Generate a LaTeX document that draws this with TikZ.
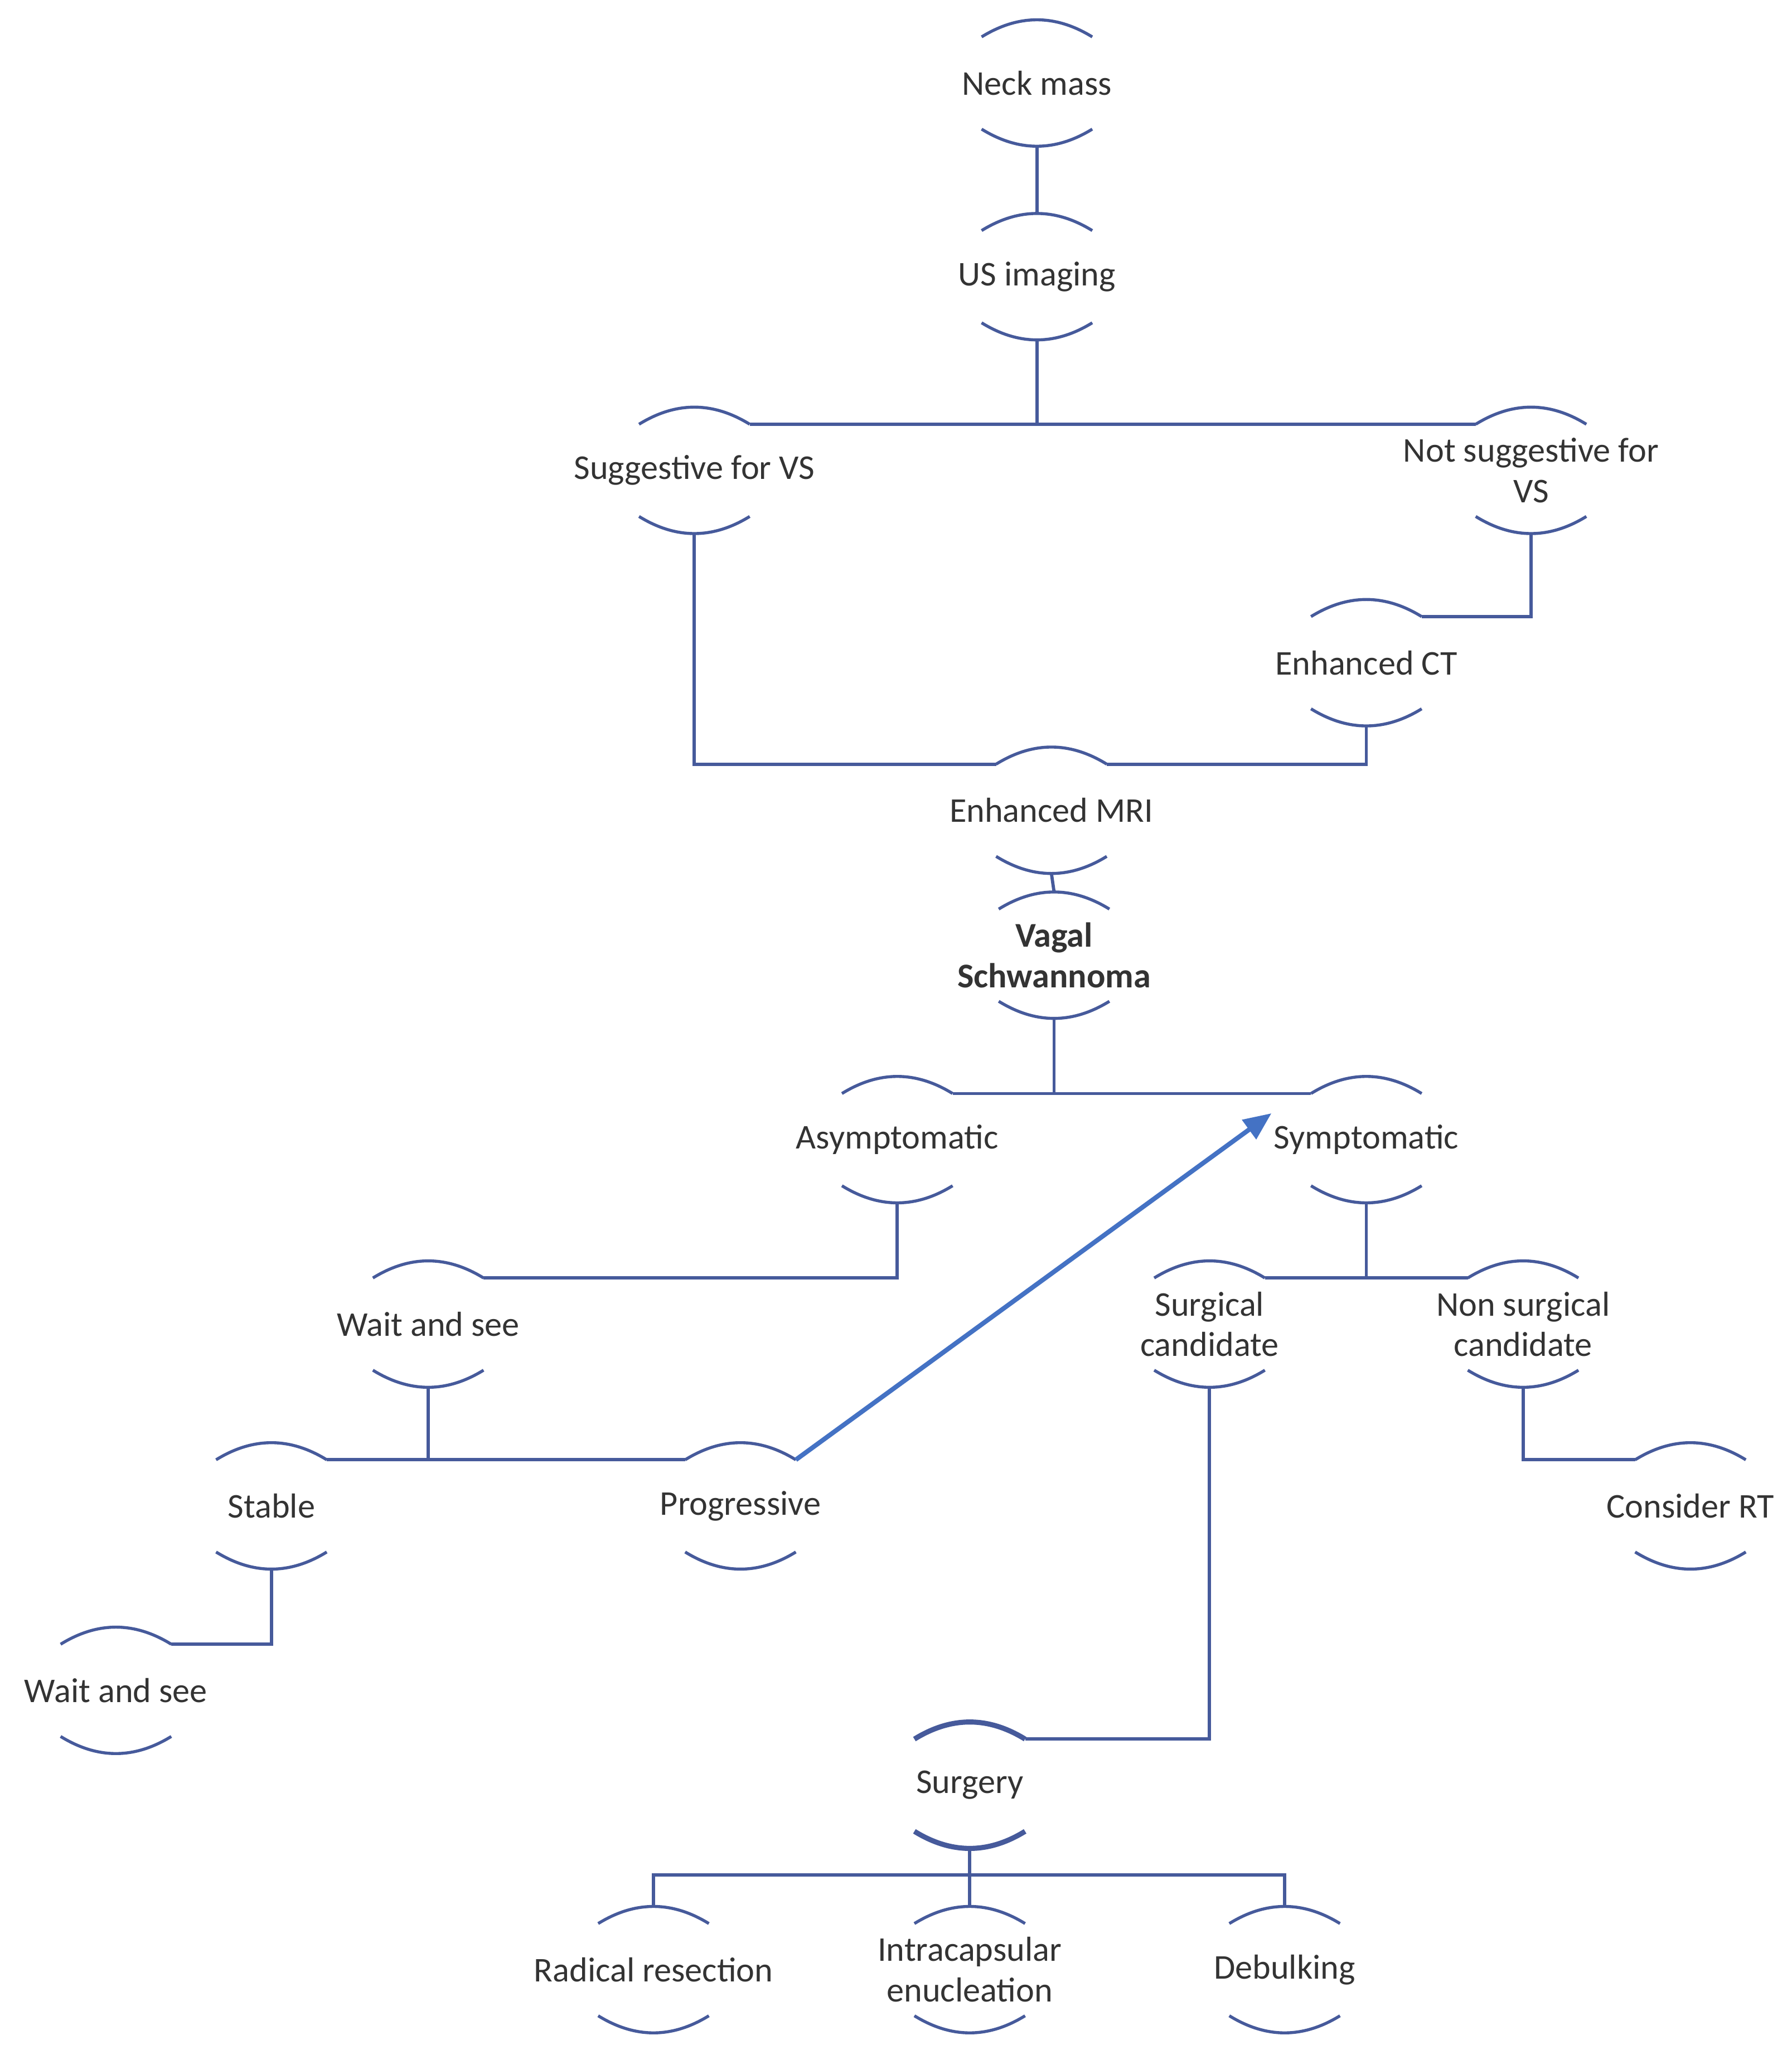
\documentclass[tikz,border=0pt]{standalone}
\usepackage{fontspec}
\setmainfont{Carlito}
\usetikzlibrary{calc,arrows.meta}
\definecolor{ln}{RGB}{70,90,155}
\definecolor{ar}{RGB}{68,114,196}
\tikzset{
  lbl/.style={align=center,font=\fontsize{15}{17.5}\selectfont,text=black!80,inner sep=0pt},
  arcl/.style={draw=ln,line width=1.3pt},
  con/.style={draw=ln,line width=1.4pt},
}
% \arcnode[style]{name}{x}{y}{text}
\newcommand{\arcnode}[5][]{%
  \node[lbl] (#2) at (#3,#4) {#5};
  \coordinate (#2-tl) at ({#3-42},{#4-35});
  \coordinate (#2-tr) at ({#3+42},{#4-35});
  \coordinate (#2-t) at (#3,{#4-48});
  \coordinate (#2-bl) at ({#3-42},{#4+35});
  \coordinate (#2-br) at ({#3+42},{#4+35});
  \coordinate (#2-b) at (#3,{#4+48});
  \draw[arcl,#1] (#2-tl) .. controls ({#3-14},{#4-52.3}) and ({#3+14},{#4-52.3}) .. (#2-tr);
  \draw[arcl,#1] (#2-bl) .. controls ({#3-14},{#4+52.3}) and ({#3+14},{#4+52.3}) .. (#2-br);
}
\begin{document}
\begin{tikzpicture}[x=0.02cm,y=-0.02cm]
\useasboundingbox (0,0) rectangle (1360,1556);
\arcnode{neck}{787}{63}{Neck mass}
\arcnode{us}{787}{210}{US imaging}
\arcnode{sug}{527}{357}{Suggestive for VS}
\arcnode{nsug}{1162}{357}{Not suggestive for\\VS}
\arcnode{ct}{1037}{503}{Enhanced CT}
\arcnode{mri}{798}{615}{Enhanced MRI}
\arcnode{vs}{800}{725}{\textbf{Vagal}\\\textbf{Schwannoma}}
\arcnode{asym}{681}{865}{Asymptomatic}
\arcnode{sym}{1037}{865}{Symptomatic}
\arcnode{wait}{325}{1005}{Wait and see}
\arcnode{surg}{918}{1005}{Surgical\\candidate}
\arcnode{nsurg}{1156}{1005}{Non surgical\\candidate}
\arcnode{stab}{206}{1143}{Stable}
\arcnode{prog}{562}{1143}{Progressive}
\arcnode{rt}{1283}{1143}{Consider RT}
\arcnode{waitb}{88}{1283}{Wait and see}
\arcnode[line width=2.2pt]{surgery}{736}{1355}{Surgery}
\arcnode{rad}{496}{1495}{Radical resection}
\arcnode{intra}{736}{1495}{Intracapsular\\enucleation}
\arcnode{deb}{975}{1495}{Debulking}

\draw[con] (neck-b) -- (us-t);
\draw[con] (us-b) -- (us-b |- sug-tr);
\draw[con] (sug-tr) -- (nsug-tl);
\draw[con] (sug-b) |- (mri-tl);
\draw[con] (mri-tr) -| (ct-b);
\draw[con] (nsug-b) |- (ct-tr);
\draw[con] (mri-b) -- (vs-t);
\draw[con] (vs-b) -- (vs-b |- asym-tr);
\draw[con] (asym-tr) -- (sym-tl);
\draw[con] (asym-b) |- (wait-tr);
\draw[con] (wait-b) -- (wait-b |- stab-tr);
\draw[con] (stab-tr) -- (prog-tl);
\draw[con] (sym-b) -- (sym-b |- surg-tr);
\draw[con] (surg-tr) -- (nsurg-tl);
\draw[con] (surg-b) |- (surgery-tr);
\draw[con] (nsurg-b) |- (rt-tl);
\draw[con] (stab-b) |- (waitb-tr);
\coordinate (split) at (736,1423);
\draw[con] (surgery-b) -- (split);
\draw[con] (rad-t) |- (deb-t |- split) -- (deb-t);
\draw[con] (split) -- (intra-t);
\draw[draw=ar,line width=2pt,-{Triangle[length=12pt,width=10pt]}] (prog-tr) -- ($(sym-tl)+(-30,15)$);
\end{tikzpicture}
\end{document}
